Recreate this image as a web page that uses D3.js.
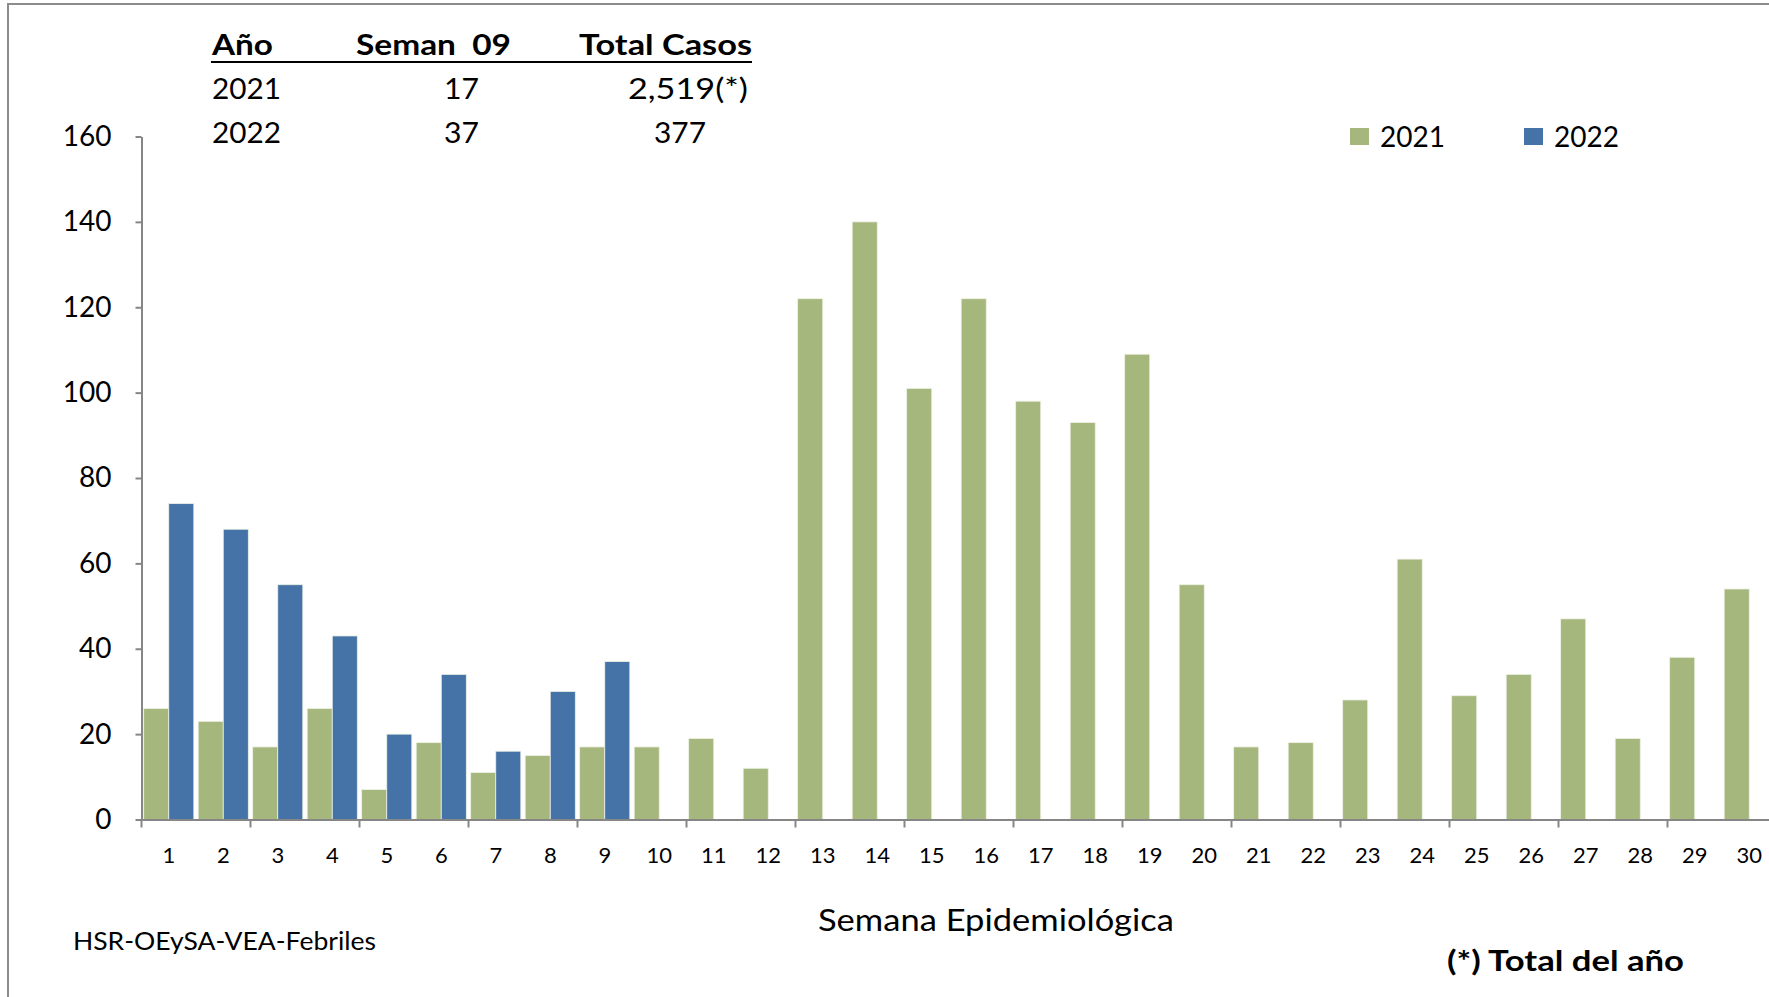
<!DOCTYPE html>
<html>
<head>
<meta charset="utf-8">
<script src="https://cdn.jsdelivr.net/npm/d3@7"></script>
<style>
	body { margin: 0; background: #fff; }
	svg text { font-family: Lato, "Open Sans", sans-serif; fill: #000; }
	.axis path, .axis line { stroke: #868686; stroke-width: 2; }
	.axis text { font-size: 28px; }
	.x.axis text { font-size: 22px; }
</style>
</head>
<body>
<svg id="chart"></svg>
<script>
let weeks		= ["1", "2", "3", "4", "5", "6", "7", "8", "9", "10", "11", "12", "13", "14", "15",
				   "16", "17", "18", "19", "20", "21", "22", "23", "24", "25", "26", "27", "28", "29", "30"];
let cases2021	= [26, 23, 17, 26, 7, 18, 11, 15, 17, 17, 19, 12, 122, 140, 101,
				   122, 98, 93, 109, 55, 17, 18, 28, 61, 29, 34, 47, 19, 38, 54];
let cases2022	= [74, 68, 55, 43, 20, 34, 16, 30, 37];
let years		= ["2021", "2022"];
let yTicks		= [0, 20, 40, 60, 80, 100, 120, 140, 160];

let tableHeader	= ["Año", "Seman  09", "Total Casos"];
let tableYears	= ["2021", "2022"];
let tableWeek	= ["17", "37"];
let tableTotal	= ["2,519(*)", "377"];

let colors		= { "2021": "#a5b77c", "2022": "#4673a7" };

let width		= 1769;
let height		= 997;
let plot		= { left: 141.5, top: 136.5, bottom: 819.5, step: 54.5 };

let data = weeks.map((w, i) => ({
	week: w,
	values: [
		{ year: "2021", value: cases2021[i] },
		{ year: "2022", value: (cases2022[i] === undefined ? null : cases2022[i]) }
	]
}));

let svg = d3.select("#chart")
	.attr("width", width)
	.attr("height", height);

// frame of the original picture
svg.append("path")
	.attr("d", "M8,1000 L8,4 L1780,4")
	.attr("fill", "none")
	.attr("stroke", "#8c8c8c")
	.attr("stroke-width", 2);

let x0 = d3.scaleBand()
	.domain(weeks)
	.range([plot.left, plot.left + plot.step * weeks.length])
	.paddingInner(0.08)
	.paddingOuter(0.04);

let x1 = d3.scaleBand()
	.domain(years)
	.range([0, x0.bandwidth()]);

let y = d3.scaleLinear()
	.domain([0, 160])
	.range([plot.bottom, plot.top]);

// bars
let groups = svg.selectAll(".week")
	.data(data)
	.enter().append("g")
		.attr("class", "week")
		.attr("transform", (o) => ("translate(" + x0(o.week) + ",0)"));

groups.selectAll("rect")
	.data((o) => o.values.filter((v) => v.value !== null))
	.enter().append("rect")
		.attr("x", (o) => x1(o.year))
		.attr("y", (o) => y(o.value))
		.attr("width", x1.bandwidth())
		.attr("height", (o) => y(0) - y(o.value))
		.attr("fill", (o) => colors[o.year])
		.attr("stroke", "#eef2e6")
		.attr("stroke-width", 0.8);

// y axis
svg.append("g")
	.attr("class", "y axis")
	.attr("transform", "translate(" + plot.left + ",0)")
	.call(d3.axisLeft(y).tickValues(yTicks).tickSize(6).tickPadding(24).tickSizeOuter(0));

// x axis: labels centred, tick marks on every second boundary
let xAxis = svg.append("g")
	.attr("class", "x axis")
	.attr("transform", "translate(0," + plot.bottom + ")")
	.call(d3.axisBottom(x0).tickSize(0).tickPadding(28).tickSizeOuter(0));

let boundaries = weeks.filter((w, i) => i % 2 === 0);
xAxis.selectAll(".boundary")
	.data(boundaries)
	.enter().append("line")
		.attr("class", "boundary")
		.attr("x1", (w) => x0(w) - x0.step() * 0.04)
		.attr("x2", (w) => x0(w) - x0.step() * 0.04)
		.attr("y1", 0)
		.attr("y2", 8);

svg.append("text")
	.attr("x", 818)
	.attr("y", 931)
	.attr("textLength", 356)
	.attr("lengthAdjust", "spacingAndGlyphs")
	.style("font-size", "31px")
	.text("Semana Epidemiológica");

// legend
let legend = svg.selectAll(".legend")
	.data(years)
	.enter().append("g")
		.attr("class", "legend")
		.attr("transform", (o, i) => ("translate(" + (1350 + i * 174) + ",128)"));

legend.append("rect")
	.attr("width", 19)
	.attr("height", 17)
	.attr("fill", (o) => colors[o]);

legend.append("text")
	.attr("x", 30)
	.attr("y", 19)
	.style("font-size", "28px")
	.text((o) => o);

// summary table
let header = svg.append("g").attr("class", "table-header");
header.append("text").attr("x", 212).attr("y", 55).attr("textLength", 61).text(tableHeader[0]);
header.append("text").attr("x", 356).attr("y", 55).attr("textLength", 155).text(tableHeader[1]);
header.append("text").attr("x", 579).attr("y", 55).attr("textLength", 173).text(tableHeader[2]);
header.selectAll("text")
	.attr("lengthAdjust", "spacingAndGlyphs")
	.style("font-size", "29px")
	.style("font-weight", "bold")
	.style("white-space", "pre");

svg.append("line")
	.attr("x1", 211)
	.attr("x2", 752)
	.attr("y1", 62)
	.attr("y2", 62)
	.attr("stroke", "#000")
	.attr("stroke-width", 2);

let rows = svg.selectAll(".table-row")
	.data(tableYears)
	.enter().append("g")
		.attr("class", "table-row")
		.attr("transform", (o, i) => ("translate(0," + (99 + i * 44) + ")"));

rows.append("text").attr("x", 212).attr("textLength", 69).text((o) => o);
rows.append("text").attr("x", 444).attr("textLength", 35).text((o, i) => tableWeek[i]);
rows.append("text")
	.attr("x", (o, i) => (i === 0 ? 628 : 654))
	.attr("textLength", (o, i) => (i === 0 ? 120 : 52))
	.text((o, i) => tableTotal[i]);
rows.selectAll("text")
	.attr("lengthAdjust", "spacingAndGlyphs")
	.style("font-size", "29px");

svg.append("text")
	.attr("x", 73)
	.attr("y", 950)
	.attr("textLength", 303)
	.attr("lengthAdjust", "spacingAndGlyphs")
	.style("font-size", "25px")
	.text("HSR-OEySA-VEA-Febriles");

svg.append("text")
	.attr("x", 1447)
	.attr("y", 971)
	.attr("textLength", 237)
	.attr("lengthAdjust", "spacingAndGlyphs")
	.style("font-size", "29px")
	.style("font-weight", "bold")
	.text("(*) Total del año");
</script>
</body>
</html>
